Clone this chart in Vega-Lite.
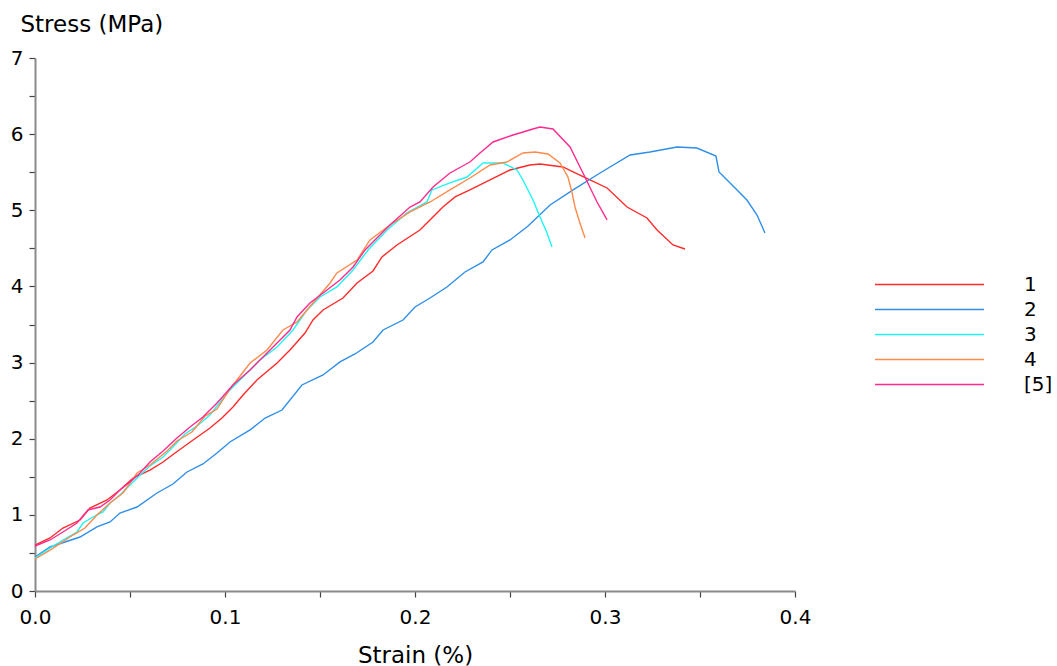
{
  "$schema": "https://vega.github.io/schema/vega-lite/v6.json",
  "width": 760,
  "height": 533,
  "autosize": "none",
  "padding": {"left": 35, "top": 58, "right": 262, "bottom": 75},
  "background": "white",
  "config": {
    "view": {"stroke": null},
    "font": "DejaVu Sans",
    "axis": {
      "grid": false,
      "domainColor": "#8a8a8a",
      "domainWidth": 2,
      "tickColor": "#444444",
      "tickWidth": 1.2,
      "tickSize": 6,
      "labelColor": "#000000",
      "labelFont": "DejaVu Sans",
      "labelFontSize": 20,
      "titleFont": "DejaVu Sans",
      "titleFontSize": 23,
      "titleFontWeight": "normal",
      "titleColor": "#000000"
    }
  },
  "data": {
    "values": [
      {"s": "1", "strain": 0.0, "stress": 0.604},
      {"s": "1", "strain": 0.0079, "stress": 0.696},
      {"s": "1", "strain": 0.0147, "stress": 0.827},
      {"s": "1", "strain": 0.0237, "stress": 0.932},
      {"s": "1", "strain": 0.0289, "stress": 1.09},
      {"s": "1", "strain": 0.0379, "stress": 1.195},
      {"s": "1", "strain": 0.0447, "stress": 1.327},
      {"s": "1", "strain": 0.0516, "stress": 1.484},
      {"s": "1", "strain": 0.0605, "stress": 1.589},
      {"s": "1", "strain": 0.0674, "stress": 1.694},
      {"s": "1", "strain": 0.0737, "stress": 1.812},
      {"s": "1", "strain": 0.0832, "stress": 1.983},
      {"s": "1", "strain": 0.0921, "stress": 2.141},
      {"s": "1", "strain": 0.0984, "stress": 2.272},
      {"s": "1", "strain": 0.1042, "stress": 2.417},
      {"s": "1", "strain": 0.1095, "stress": 2.574},
      {"s": "1", "strain": 0.1168, "stress": 2.771},
      {"s": "1", "strain": 0.1274, "stress": 2.995},
      {"s": "1", "strain": 0.1342, "stress": 3.165},
      {"s": "1", "strain": 0.1421, "stress": 3.388},
      {"s": "1", "strain": 0.1463, "stress": 3.559},
      {"s": "1", "strain": 0.1516, "stress": 3.691},
      {"s": "1", "strain": 0.1621, "stress": 3.848},
      {"s": "1", "strain": 0.1695, "stress": 4.045},
      {"s": "1", "strain": 0.1779, "stress": 4.203},
      {"s": "1", "strain": 0.1826, "stress": 4.387},
      {"s": "1", "strain": 0.1905, "stress": 4.544},
      {"s": "1", "strain": 0.2026, "stress": 4.741},
      {"s": "1", "strain": 0.2079, "stress": 4.873},
      {"s": "1", "strain": 0.2147, "stress": 5.043},
      {"s": "1", "strain": 0.2211, "stress": 5.175},
      {"s": "1", "strain": 0.2289, "stress": 5.267},
      {"s": "1", "strain": 0.2395, "stress": 5.398},
      {"s": "1", "strain": 0.25, "stress": 5.529},
      {"s": "1", "strain": 0.2605, "stress": 5.595},
      {"s": "1", "strain": 0.2658, "stress": 5.608},
      {"s": "1", "strain": 0.2779, "stress": 5.569},
      {"s": "1", "strain": 0.2832, "stress": 5.503},
      {"s": "1", "strain": 0.2921, "stress": 5.398},
      {"s": "1", "strain": 0.3011, "stress": 5.293},
      {"s": "1", "strain": 0.3116, "stress": 5.043},
      {"s": "1", "strain": 0.3221, "stress": 4.899},
      {"s": "1", "strain": 0.3274, "stress": 4.741},
      {"s": "1", "strain": 0.3358, "stress": 4.544},
      {"s": "1", "strain": 0.3421, "stress": 4.492},

      {"s": "2", "strain": 0.0, "stress": 0.447},
      {"s": "2", "strain": 0.0079, "stress": 0.578},
      {"s": "2", "strain": 0.0237, "stress": 0.709},
      {"s": "2", "strain": 0.0326, "stress": 0.841},
      {"s": "2", "strain": 0.0395, "stress": 0.906},
      {"s": "2", "strain": 0.0447, "stress": 1.024},
      {"s": "2", "strain": 0.0537, "stress": 1.103},
      {"s": "2", "strain": 0.0642, "stress": 1.287},
      {"s": "2", "strain": 0.0726, "stress": 1.405},
      {"s": "2", "strain": 0.08, "stress": 1.563},
      {"s": "2", "strain": 0.0884, "stress": 1.668},
      {"s": "2", "strain": 0.0958, "stress": 1.812},
      {"s": "2", "strain": 0.1026, "stress": 1.957},
      {"s": "2", "strain": 0.1132, "stress": 2.115},
      {"s": "2", "strain": 0.1211, "stress": 2.272},
      {"s": "2", "strain": 0.13, "stress": 2.377},
      {"s": "2", "strain": 0.1405, "stress": 2.706},
      {"s": "2", "strain": 0.1516, "stress": 2.837},
      {"s": "2", "strain": 0.1605, "stress": 3.008},
      {"s": "2", "strain": 0.1684, "stress": 3.113},
      {"s": "2", "strain": 0.1779, "stress": 3.27},
      {"s": "2", "strain": 0.1832, "stress": 3.428},
      {"s": "2", "strain": 0.1937, "stress": 3.559},
      {"s": "2", "strain": 0.2, "stress": 3.73},
      {"s": "2", "strain": 0.2079, "stress": 3.848},
      {"s": "2", "strain": 0.2168, "stress": 3.993},
      {"s": "2", "strain": 0.2263, "stress": 4.19},
      {"s": "2", "strain": 0.2358, "stress": 4.321},
      {"s": "2", "strain": 0.2405, "stress": 4.479},
      {"s": "2", "strain": 0.25, "stress": 4.61},
      {"s": "2", "strain": 0.2595, "stress": 4.794},
      {"s": "2", "strain": 0.2711, "stress": 5.07},
      {"s": "2", "strain": 0.2832, "stress": 5.267},
      {"s": "2", "strain": 0.2974, "stress": 5.49},
      {"s": "2", "strain": 0.3132, "stress": 5.726},
      {"s": "2", "strain": 0.3237, "stress": 5.766},
      {"s": "2", "strain": 0.3379, "stress": 5.831},
      {"s": "2", "strain": 0.3484, "stress": 5.818},
      {"s": "2", "strain": 0.3584, "stress": 5.713},
      {"s": "2", "strain": 0.36, "stress": 5.503},
      {"s": "2", "strain": 0.3674, "stress": 5.319},
      {"s": "2", "strain": 0.3747, "stress": 5.135},
      {"s": "2", "strain": 0.38, "stress": 4.938},
      {"s": "2", "strain": 0.3842, "stress": 4.702},

      {"s": "3", "strain": 0.0, "stress": 0.433},
      {"s": "3", "strain": 0.0079, "stress": 0.565},
      {"s": "3", "strain": 0.0147, "stress": 0.67},
      {"s": "3", "strain": 0.0221, "stress": 0.775},
      {"s": "3", "strain": 0.0253, "stress": 0.893},
      {"s": "3", "strain": 0.0305, "stress": 0.972},
      {"s": "3", "strain": 0.0358, "stress": 1.038},
      {"s": "3", "strain": 0.0395, "stress": 1.156},
      {"s": "3", "strain": 0.0447, "stress": 1.261},
      {"s": "3", "strain": 0.05, "stress": 1.392},
      {"s": "3", "strain": 0.0553, "stress": 1.523},
      {"s": "3", "strain": 0.0605, "stress": 1.642},
      {"s": "3", "strain": 0.0674, "stress": 1.76},
      {"s": "3", "strain": 0.0726, "stress": 1.891},
      {"s": "3", "strain": 0.0789, "stress": 2.062},
      {"s": "3", "strain": 0.0853, "stress": 2.167},
      {"s": "3", "strain": 0.0921, "stress": 2.312},
      {"s": "3", "strain": 0.0974, "stress": 2.482},
      {"s": "3", "strain": 0.1026, "stress": 2.64},
      {"s": "3", "strain": 0.1116, "stress": 2.863},
      {"s": "3", "strain": 0.1184, "stress": 3.034},
      {"s": "3", "strain": 0.1274, "stress": 3.205},
      {"s": "3", "strain": 0.1358, "stress": 3.428},
      {"s": "3", "strain": 0.1432, "stress": 3.691},
      {"s": "3", "strain": 0.15, "stress": 3.861},
      {"s": "3", "strain": 0.1589, "stress": 3.993},
      {"s": "3", "strain": 0.1674, "stress": 4.216},
      {"s": "3", "strain": 0.1753, "stress": 4.479},
      {"s": "3", "strain": 0.1853, "stress": 4.741},
      {"s": "3", "strain": 0.1958, "stress": 4.965},
      {"s": "3", "strain": 0.2063, "stress": 5.109},
      {"s": "3", "strain": 0.2089, "stress": 5.267},
      {"s": "3", "strain": 0.2184, "stress": 5.359},
      {"s": "3", "strain": 0.2274, "stress": 5.437},
      {"s": "3", "strain": 0.2358, "stress": 5.621},
      {"s": "3", "strain": 0.2463, "stress": 5.621},
      {"s": "3", "strain": 0.2537, "stress": 5.529},
      {"s": "3", "strain": 0.2568, "stress": 5.398},
      {"s": "3", "strain": 0.2621, "stress": 5.135},
      {"s": "3", "strain": 0.2658, "stress": 4.912},
      {"s": "3", "strain": 0.2695, "stress": 4.702},
      {"s": "3", "strain": 0.2721, "stress": 4.518},

      {"s": "4", "strain": 0.0, "stress": 0.42},
      {"s": "4", "strain": 0.0079, "stress": 0.538},
      {"s": "4", "strain": 0.02, "stress": 0.735},
      {"s": "4", "strain": 0.0263, "stress": 0.827},
      {"s": "4", "strain": 0.0326, "stress": 0.998},
      {"s": "4", "strain": 0.0395, "stress": 1.156},
      {"s": "4", "strain": 0.0463, "stress": 1.287},
      {"s": "4", "strain": 0.05, "stress": 1.418},
      {"s": "4", "strain": 0.0537, "stress": 1.55},
      {"s": "4", "strain": 0.0605, "stress": 1.655},
      {"s": "4", "strain": 0.0695, "stress": 1.839},
      {"s": "4", "strain": 0.0747, "stress": 1.97},
      {"s": "4", "strain": 0.0826, "stress": 2.088},
      {"s": "4", "strain": 0.0895, "stress": 2.298},
      {"s": "4", "strain": 0.0958, "stress": 2.39},
      {"s": "4", "strain": 0.1026, "stress": 2.653},
      {"s": "4", "strain": 0.1132, "stress": 2.994},
      {"s": "4", "strain": 0.1221, "stress": 3.165},
      {"s": "4", "strain": 0.1305, "stress": 3.428},
      {"s": "4", "strain": 0.1379, "stress": 3.533},
      {"s": "4", "strain": 0.1463, "stress": 3.782},
      {"s": "4", "strain": 0.1553, "stress": 4.045},
      {"s": "4", "strain": 0.1589, "stress": 4.177},
      {"s": "4", "strain": 0.1695, "stress": 4.347},
      {"s": "4", "strain": 0.1763, "stress": 4.61},
      {"s": "4", "strain": 0.1868, "stress": 4.807},
      {"s": "4", "strain": 0.1974, "stress": 4.978},
      {"s": "4", "strain": 0.2079, "stress": 5.109},
      {"s": "4", "strain": 0.2184, "stress": 5.267},
      {"s": "4", "strain": 0.2289, "stress": 5.424},
      {"s": "4", "strain": 0.2395, "stress": 5.595},
      {"s": "4", "strain": 0.2484, "stress": 5.634},
      {"s": "4", "strain": 0.2568, "stress": 5.753},
      {"s": "4", "strain": 0.2632, "stress": 5.766},
      {"s": "4", "strain": 0.27, "stress": 5.739},
      {"s": "4", "strain": 0.2763, "stress": 5.621},
      {"s": "4", "strain": 0.2805, "stress": 5.437},
      {"s": "4", "strain": 0.2826, "stress": 5.24},
      {"s": "4", "strain": 0.2842, "stress": 5.043},
      {"s": "4", "strain": 0.2868, "stress": 4.833},
      {"s": "4", "strain": 0.2895, "stress": 4.636},

      {"s": "[5]", "strain": 0.0, "stress": 0.591},
      {"s": "[5]", "strain": 0.0079, "stress": 0.67},
      {"s": "[5]", "strain": 0.0147, "stress": 0.775},
      {"s": "[5]", "strain": 0.0221, "stress": 0.893},
      {"s": "[5]", "strain": 0.0279, "stress": 1.064},
      {"s": "[5]", "strain": 0.0342, "stress": 1.103},
      {"s": "[5]", "strain": 0.0395, "stress": 1.195},
      {"s": "[5]", "strain": 0.0447, "stress": 1.327},
      {"s": "[5]", "strain": 0.05, "stress": 1.432},
      {"s": "[5]", "strain": 0.0553, "stress": 1.55},
      {"s": "[5]", "strain": 0.0605, "stress": 1.694},
      {"s": "[5]", "strain": 0.0674, "stress": 1.839},
      {"s": "[5]", "strain": 0.0747, "stress": 2.009},
      {"s": "[5]", "strain": 0.0816, "stress": 2.154},
      {"s": "[5]", "strain": 0.0884, "stress": 2.285},
      {"s": "[5]", "strain": 0.0958, "stress": 2.469},
      {"s": "[5]", "strain": 0.1042, "stress": 2.706},
      {"s": "[5]", "strain": 0.1132, "stress": 2.903},
      {"s": "[5]", "strain": 0.12, "stress": 3.073},
      {"s": "[5]", "strain": 0.1274, "stress": 3.257},
      {"s": "[5]", "strain": 0.1342, "stress": 3.428},
      {"s": "[5]", "strain": 0.1379, "stress": 3.599},
      {"s": "[5]", "strain": 0.1447, "stress": 3.782},
      {"s": "[5]", "strain": 0.1537, "stress": 3.953},
      {"s": "[5]", "strain": 0.1605, "stress": 4.085},
      {"s": "[5]", "strain": 0.1674, "stress": 4.255},
      {"s": "[5]", "strain": 0.1737, "stress": 4.479},
      {"s": "[5]", "strain": 0.1868, "stress": 4.807},
      {"s": "[5]", "strain": 0.1974, "stress": 5.043},
      {"s": "[5]", "strain": 0.2026, "stress": 5.109},
      {"s": "[5]", "strain": 0.2095, "stress": 5.306},
      {"s": "[5]", "strain": 0.2184, "stress": 5.49},
      {"s": "[5]", "strain": 0.2289, "stress": 5.634},
      {"s": "[5]", "strain": 0.2342, "stress": 5.753},
      {"s": "[5]", "strain": 0.2411, "stress": 5.897},
      {"s": "[5]", "strain": 0.2516, "stress": 5.989},
      {"s": "[5]", "strain": 0.2621, "stress": 6.068},
      {"s": "[5]", "strain": 0.2658, "stress": 6.094},
      {"s": "[5]", "strain": 0.2726, "stress": 6.068},
      {"s": "[5]", "strain": 0.2816, "stress": 5.831},
      {"s": "[5]", "strain": 0.2884, "stress": 5.49},
      {"s": "[5]", "strain": 0.2958, "stress": 5.109},
      {"s": "[5]", "strain": 0.3011, "stress": 4.873}
    ]
  },
  "mark": {"type": "line", "strokeWidth": 1.4, "interpolate": "linear"},
  "encoding": {
    "x": {
      "field": "strain",
      "type": "quantitative",
      "scale": {"domain": [0, 0.4], "nice": false, "zero": true},
      "axis": {
        "title": "Strain (%)",
        "values": [0, 0.05, 0.1, 0.15, 0.2, 0.25, 0.3, 0.35, 0.4],
        "labelExpr": "abs(datum.value * 10 - round(datum.value * 10)) < 0.001 ? format(datum.value, '.1f') : ''",
        "labelPadding": 10,
        "labelFlush": false,
        "titleY": 64,
        "titleBaseline": "middle"
      }
    },
    "y": {
      "field": "stress",
      "type": "quantitative",
      "scale": {"domain": [0, 7], "nice": false},
      "axis": {
        "title": "Stress (MPa)",
        "values": [0, 0.5, 1, 1.5, 2, 2.5, 3, 3.5, 4, 4.5, 5, 5.5, 6, 6.5, 7],
        "labelExpr": "datum.value % 1 === 0 ? format(datum.value, 'd') : ''",
        "labelPadding": 6,
        "labelFlush": false,
        "titleAngle": 0,
        "titleAlign": "left",
        "titleBaseline": "middle",
        "titleX": -15,
        "titleY": -34
      }
    },
    "color": {
      "field": "s",
      "type": "nominal",
      "scale": {
        "domain": ["1", "2", "3", "4", "[5]"],
        "range": ["#ff2a2a", "#2f8ee8", "#1ff5f5", "#ff8a4c", "#ff2a8e"]
      },
      "legend": {
        "title": null,
        "orient": "none",
        "legendX": 839,
        "legendY": 214,
        "padding": 0,
        "symbolType": "stroke",
        "symbolSize": 11881,
        "symbolStrokeWidth": 1.6,
        "clipHeight": 25,
        "rowPadding": 0,
        "labelOffset": 39,
        "labelFont": "DejaVu Sans",
        "labelFontSize": 20,
        "labelColor": "#000000"
      }
    }
  }
}
